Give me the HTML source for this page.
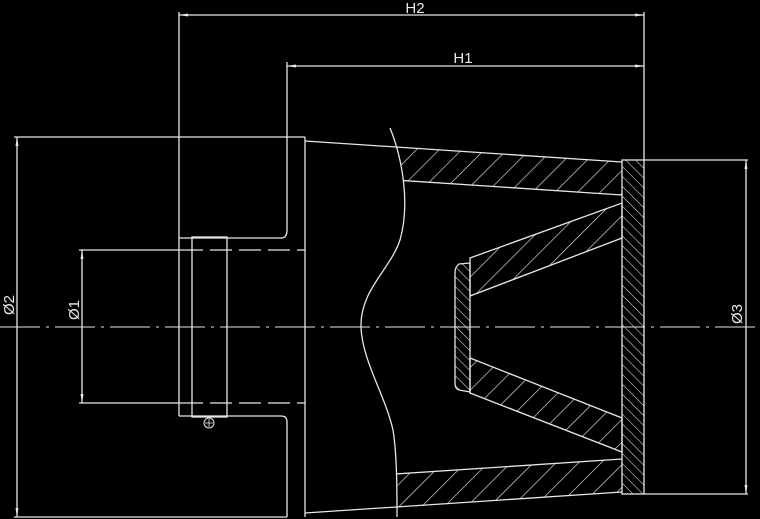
<!DOCTYPE html>
<html><head><meta charset="utf-8"><style>
html,body{margin:0;padding:0;background:#000;}
svg{display:block;}
text{font-family:"Liberation Sans",sans-serif;fill:#e8e8e8;font-size:15px;}
</style></head><body>
<svg width="760" height="519" viewBox="0 0 760 519" xmlns="http://www.w3.org/2000/svg">
<defs>
<pattern id="hA" patternUnits="userSpaceOnUse" width="16" height="16" patternTransform="rotate(45)">
<line x1="0" y1="0" x2="0" y2="16" stroke="#e6e6e6" stroke-width="1.3"/></pattern>
<pattern id="hB" patternUnits="userSpaceOnUse" width="7" height="7" patternTransform="rotate(-45)">
<line x1="0" y1="0" x2="0" y2="7" stroke="#e6e6e6" stroke-width="1.1"/></pattern>
<clipPath id="wv"><path d="M390,120 C403,160 410,205 400,240 C390,270 360,290 361,327 C362,360 385,395 393,430 C397,455 397,490 397,519 L760,519 L760,120 Z"/></clipPath>
</defs>
<g stroke="#e6e6e6" stroke-width="1.3" fill="none">
<!-- centerline -->
<line x1="0" y1="327" x2="760" y2="327" stroke-dasharray="40,6,3,6" stroke-width="1.1"/>
<!-- dimensions -->
<line x1="179" y1="12" x2="179" y2="416"/>
<line x1="179" y1="15" x2="644" y2="15"/>
<line x1="287" y1="62" x2="287" y2="230"/>
<line x1="287" y1="66" x2="644" y2="66"/>
<line x1="644" y1="12" x2="644" y2="160"/>
<line x1="14" y1="137" x2="305" y2="137"/>
<line x1="17" y1="137" x2="17" y2="517"/>
<line x1="14" y1="517" x2="287" y2="517"/>
<line x1="79" y1="250" x2="181" y2="250"/>
<line x1="79" y1="403" x2="181" y2="403"/>
<line x1="82" y1="250" x2="82" y2="403"/>
<line x1="644" y1="160" x2="748" y2="160"/>
<line x1="644" y1="494" x2="748" y2="494"/>
<line x1="746" y1="160" x2="746" y2="494"/>
<!-- body -->
<line x1="305" y1="137" x2="305" y2="517"/>
<path d="M287,230 Q287,238 281,238 L179,238"/>
<path d="M179,416 L281,416 Q287,416 287,422 L287,517"/>
<line x1="181" y1="250" x2="305" y2="250" stroke-dasharray="22,7"/>
<line x1="181" y1="403" x2="305" y2="403" stroke-dasharray="22,7"/>
<rect x="192" y="237" width="35" height="180"/>
<circle cx="209" cy="423" r="5" stroke-width="1"/>
<line x1="205" y1="423" x2="213" y2="423" stroke-width="0.8"/>
<line x1="209" y1="419" x2="209" y2="427" stroke-width="0.8"/>
<!-- wavy -->
<path d="M390,128 C403,160 410,205 400,240 C390,270 360,290 361,327 C362,360 385,395 393,430 C397,455 397,490 397,517"/>
<!-- outer cone -->
<line x1="305" y1="141" x2="622" y2="162"/>
<line x1="305" y1="513" x2="622" y2="492"/>
<g clip-path="url(#wv)">
<polygon points="380,145 622,162 622,195 380,179" fill="url(#hA)" stroke="none"/>
<polygon points="380,509 622,492 622,459 380,475" fill="url(#hA)" stroke="none"/>
<line x1="380" y1="179" x2="622" y2="195"/>
<line x1="380" y1="475" x2="622" y2="459"/>
</g>
<!-- inner cone -->
<polygon points="470,258 622,203 622,238 470,296" fill="url(#hA)"/>
<polygon points="470,358 622,418 622,452 470,393" fill="url(#hA)"/>
<path d="M470,263 L459,264 Q455,267 455,272 L455,383 Q455,389 459,390 L470,392 Z" fill="url(#hB)"/>
<!-- flange -->
<rect x="622" y="160" width="22" height="334" fill="url(#hB)"/>
</g>
<g fill="#e6e6e6">
<polygon points="179,15 188,13.5 188,16.5"/><polygon points="644,15 635,13.5 635,16.5"/>
<polygon points="287,66 296,64.5 296,67.5"/><polygon points="644,66 635,64.5 635,67.5"/>
<polygon points="17,137 15.5,146 18.5,146"/><polygon points="17,517 15.5,508 18.5,508"/>
<polygon points="82,250 80.5,259 83.5,259"/><polygon points="82,403 80.5,394 83.5,394"/>
<polygon points="746,160 744.5,169 747.5,169"/><polygon points="746,494 744.5,485 747.5,485"/>
</g>
<text x="415" y="13" text-anchor="middle">H2</text>
<text x="463" y="63" text-anchor="middle">H1</text>
<text transform="translate(14,305) rotate(-90)" text-anchor="middle">Ø2</text>
<text transform="translate(79,310) rotate(-90)" text-anchor="middle">Ø1</text>
<text transform="translate(742,314) rotate(-90)" text-anchor="middle">Ø3</text>
</svg>
</body></html>
